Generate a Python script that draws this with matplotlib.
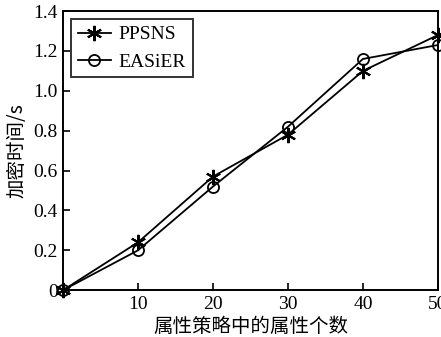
import matplotlib.pyplot as plt
import numpy as np

plt.rcParams['font.family'] = ['Liberation Serif', 'Noto Sans CJK SC']

attr_counts = [0, 10, 20, 30, 40, 50]
ppsns = [0.0, 0.24, 0.57, 0.78, 1.10, 1.28]
easier = [0.0, 0.20, 0.52, 0.82, 1.16, 1.23]
yticks = [0, 0.2, 0.4, 0.6, 0.8, 1.0, 1.2, 1.4]
ytick_labels = ['0', '0.2', '0.4', '0.6', '0.8', '1.0', '1.2', '1.4']
xticks = [10, 20, 30, 40, 50]

fig = plt.figure(figsize=(4.41, 3.37), dpi=100)
ax = fig.add_axes([0.143, 0.139, 0.850, 0.828])

# asterisk marker: 6 arms
ax.plot(attr_counts, ppsns, color='black', lw=1.3, marker=(6, 2, 0), ms=11,
        mfc='black', mec='black', mew=1.5, label='PPSNS', clip_on=False, zorder=3)
ax.plot(attr_counts, easier, color='black', lw=1.3, marker='o', ms=8,
        mfc='none', mec='black', mew=1.3, label='EASiER', clip_on=False, zorder=3)

ax.set_xlim(0, 50)
ax.set_ylim(0, 1.4)
ax.set_xticks(xticks)
ax.set_yticks(yticks)
ax.set_yticklabels(ytick_labels)
ax.tick_params(direction='in', labelsize=14, width=1.2, length=5, pad=4)
for sp in ax.spines.values():
    sp.set_linewidth(1.4)

ax.set_xlabel('属性策略中的属性个数', fontsize=14, family=['Noto Sans CJK SC'], labelpad=2)
ax.set_ylabel('加密时间/s', fontsize=14, family=['Noto Sans CJK SC', 'Liberation Serif'], labelpad=4)

leg = ax.legend(loc='upper left', fontsize=14, frameon=True, fancybox=False,
                edgecolor='black', handlelength=1.7, borderpad=0.35, labelspacing=0.5,
                borderaxespad=0.4, handletextpad=0.4)
leg.get_frame().set_linewidth(1.4)

fig.savefig('out.png', dpi=100)
